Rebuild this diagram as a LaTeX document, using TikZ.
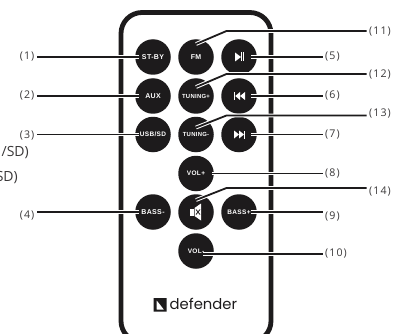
\documentclass[tikz,border=0pt]{standalone}
\usepackage{fontspec}
\setmainfont{Open Sans}
\newfontfamily\lab[LetterSpace=10]{Open Sans}
\newfontfamily\btn[LetterSpace=5]{Liberation Sans Bold}
\newfontfamily\logo{Poppins}
\definecolor{ink}{HTML}{1D1B1C}
\definecolor{labc}{HTML}{3A3839}
\tikzset{
  x=1pt,y=-1pt,
  key/.style={circle,fill=ink,minimum size=35.5pt,inner sep=0pt,text=white,font=\btn\fontsize{7}{8}\selectfont},
  tag/.style={inner sep=0pt,text=labc,font=\lab\fontsize{10.6}{12}\selectfont},
  lefttag/.style={tag,anchor=east},
  righttag/.style={tag,anchor=west},
  cuttext/.style={inner sep=0pt,anchor=east,text=labc,font=\fontsize{14}{16}\selectfont},
  leader/.style={draw=ink,line width=1.8pt,preaction={draw=white,line width=3.8pt}},
  glyph/.style={fill=white,draw=none},
}
\begin{document}
\begin{tikzpicture}
\useasboundingbox (0,0) rectangle (401,334);
\clip (0,0) rectangle (401,334);
\fill[white] (0,0) rectangle (401,334);
% cut-off text
\node[cuttext] (c1) at (29,153) {/SD)};
\node[cuttext] (c2) at (18,178) {SD)};
% body
\draw[ink,line width=4.8pt,rounded corners=21pt] (121,12.5) rectangle (271,342);
% keys
\node[key] (b1) at (153,57) {ST-BY};
\node[key] (b2) at (153,96) {AUX};
\node[key,font=\btn\fontsize{6.5}{8}\selectfont] (b3) at (153,134.5) {USB/SD};
\node[key] (b4) at (153,212) {BASS-};
\node[key] (b11) at (196,57) {FM};
\node[key,font=\btn\fontsize{5.9}{8}\selectfont] (b12) at (196,96) {TUNING+};
\node[key,font=\btn\fontsize{5.9}{8}\selectfont] (b13) at (196,134.5) {TUNING-};
\node[key,font=\btn\fontsize{6.5}{8}\selectfont] (b8) at (196,173.5) {VOL+};
\node[key] (b14) at (196,212) {};
\node[key,font=\btn\fontsize{6.5}{8}\selectfont] (b10) at (196,251) {VOL-};
\node[key] (b5) at (239,57) {};
\node[key] (b6) at (239,96) {};
\node[key] (b7) at (239,134.5) {};
\node[key,font=\btn\fontsize{6.5}{8}\selectfont] (b9) at (239,212) {BASS+};
% key glyphs
\fill[glyph] (235,52.5) -- (241,57) -- (235,61.5) -- cycle;
\fill[glyph] (241,52.5) rectangle (242,61.5);
\fill[glyph] (243,52.5) rectangle (244.2,61.5);
\fill[glyph] (234,92) rectangle (235.2,100);
\fill[glyph] (240,92) -- (235.2,96) -- (240,100) -- cycle;
\fill[glyph] (245,92) -- (240,96) -- (245,100) -- cycle;
\fill[glyph] (234,130.5) -- (239,134.5) -- (234,138.5) -- cycle;
\fill[glyph] (239,130.5) -- (244,134.5) -- (239,138.5) -- cycle;
\fill[glyph] (243.8,130.5) rectangle (245,138.5);
\fill[glyph] (189.5,208.5) rectangle (193.5,216);
\fill[glyph] (194.5,208) -- (201,203.5) -- (201,220.5) -- (194.5,216) -- cycle;
\draw[ink,line width=.8pt] (196,209.5) -- (200,214.5) (200,209.5) -- (196,214.5);
% logo
\fill[ink,even odd rule] (153.5,298) -- (166.5,298) -- (166.5,311.5) -- (153.5,311.5) -- cycle
  (156.5,300) -- (156.5,309.5) -- (164,309.5) -- cycle;
\node[inner sep=0pt,anchor=west,text=ink,font=\logo\fontsize{14.8}{18}\selectfont] (brand) at (169.5,304) {defender};
% tags
\node[lefttag] (l1) at (34.5,57) {(1)};
\node[lefttag] (l2) at (34.5,96) {(2)};
\node[lefttag] (l3) at (34.5,135) {(3)};
\node[lefttag] (l4) at (34.5,216) {(4)};
\node[righttag] (l5) at (325,57) {(5)};
\node[righttag] (l6) at (325,96) {(6)};
\node[righttag] (l7) at (325,134.5) {(7)};
\node[righttag] (l8) at (325,173) {(8)};
\node[righttag] (l9) at (325,216) {(9)};
\node[righttag] (l10) at (325,253) {(10)};
\node[righttag] (l11) at (369,32) {(11)};
\node[righttag] (l12) at (369,75) {(12)};
\node[righttag] (l13) at (369,114) {(13)};
\node[righttag] (l14) at (369,192) {(14)};
% free ends and knees
\coordinate (t10) at (202.5,254);
\coordinate (k11) at (226.5,31);
\coordinate (k12) at (226.5,74);
\coordinate (k13) at (226.5,115.5);
\coordinate (k14) at (226.5,188);
% leaders
\draw[leader,shorten <=2.5pt] (l1.east |- b1.center) -- ([xshift=4.2pt]b1.west);
\draw[leader,shorten <=2.5pt] (l2.east |- b2.center) -- ([xshift=4.2pt]b2.west);
\draw[leader,shorten <=2.5pt] (l3.east |- b3.center) -- ([xshift=4.2pt]b3.west);
\draw[leader,shorten <=2.5pt] (l4.east |- b4.center) -- ([xshift=4.2pt]b4.west);
\draw[leader,shorten >=2pt] ([xshift=12pt]b5.center) -- (l5.west |- b5.center);
\draw[leader,shorten >=2pt] ([xshift=12pt]b6.center) -- (l6.west |- b6.center);
\draw[leader,shorten >=2pt] ([xshift=12pt]b7.center) -- (l7.west |- b7.center);
\draw[leader,shorten >=2pt] ([xshift=16pt]b8.center) -- (l8.west |- b8.center);
\draw[leader,shorten >=2pt] ([xshift=12pt]b9.center) -- (l9.west |- b9.center);
\draw[leader,shorten >=2pt] (t10) -- (l10.west |- t10);
\draw[leader,shorten >=2.5pt] ([yshift=13pt]b11.center) -- (k11) -- (l11.west |- k11);
\draw[leader,shorten >=2.5pt] ([yshift=9pt]b12.center) -- (k12) -- (l12.west |- k12);
\draw[leader,shorten >=2.5pt] ([yshift=7pt]b13.center) -- (k13) -- (l13.west |- k13);
\draw[leader,shorten >=2.5pt] ([yshift=12pt]b14.center) -- (k14) -- (l14.west |- k14);
\end{tikzpicture}
\end{document}
